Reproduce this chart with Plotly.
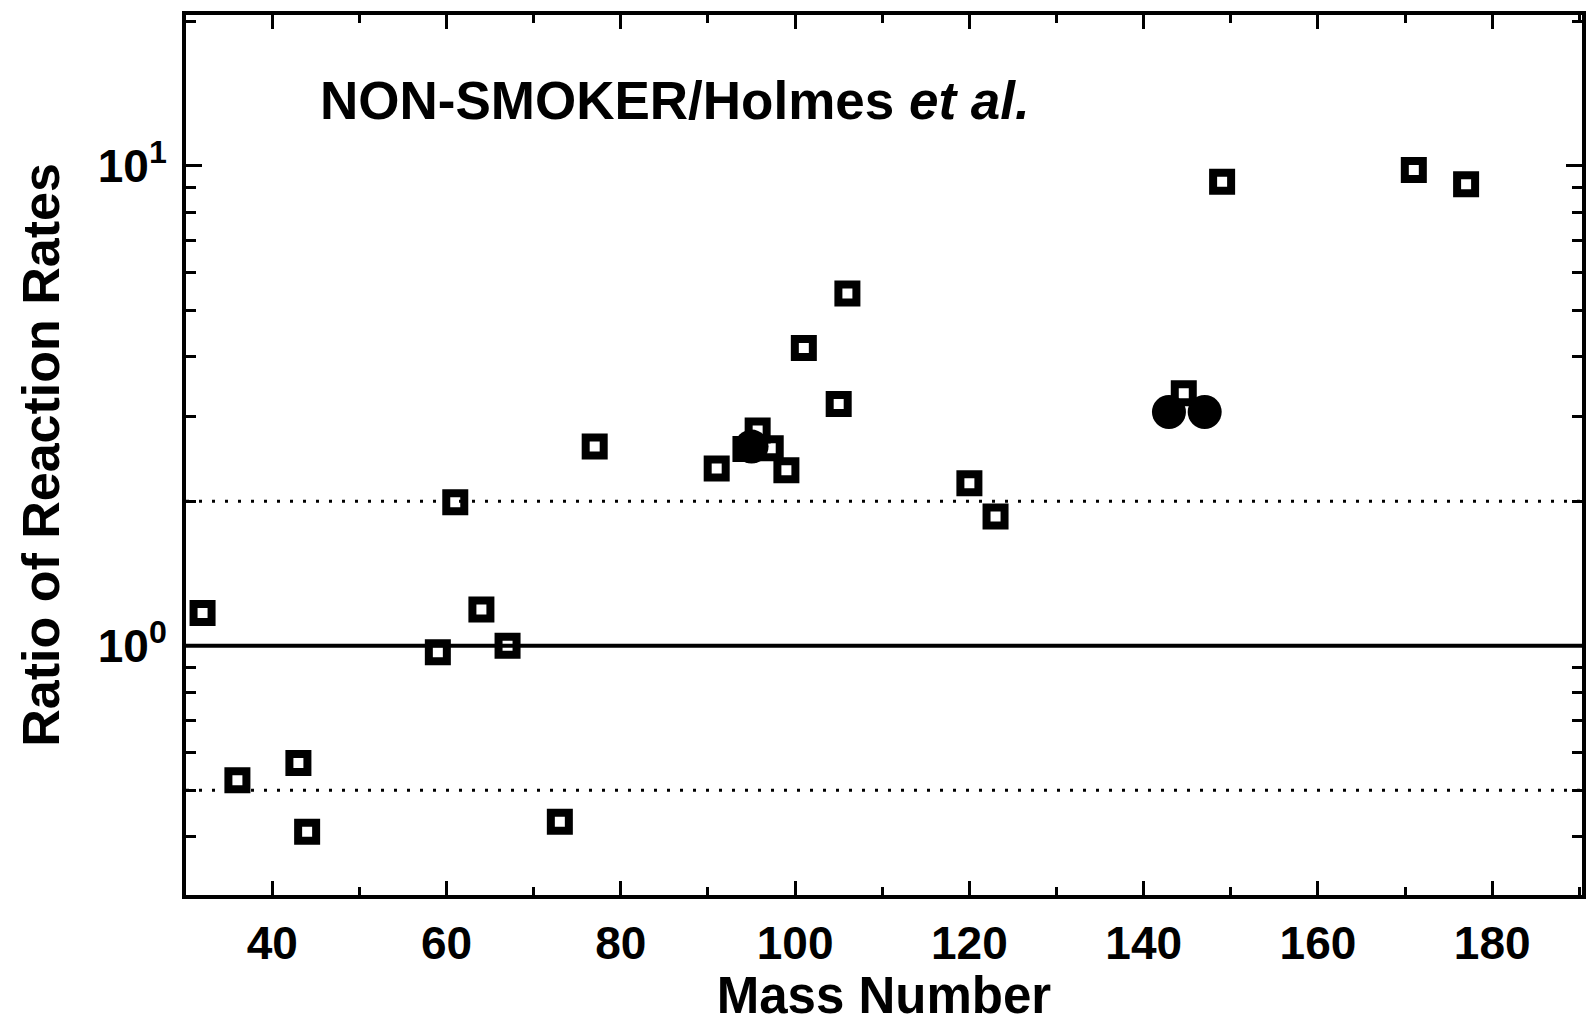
import plotly.graph_objects as go

# ---- data ----
sq_mass = [32, 36, 43, 44, 59, 61, 64, 67, 73, 77, 91, 94.3, 95.7, 97.2, 99, 101, 105, 106,
           120, 123, 144.6, 149, 171, 177]
sq_ratio = [1.17, 0.525, 0.57, 0.41, 0.97, 1.99, 1.19, 1.0, 0.43, 2.6, 2.34, 2.57, 2.81, 2.58,
            2.32, 4.17, 3.19, 5.42, 2.18, 1.86, 3.36, 9.26, 9.8, 9.15]

circ_mass = [95.0, 142.9, 147.0]
circ_ratio = [2.6, 3.07, 3.07]

ref_solid = [1.0]
ref_dotted = [0.5, 2.0]

x_range = [30.1, 190.3]
y_range_log = [-0.519, 1.314]

x_ticks = [40, 60, 80, 100, 120, 140, 160, 180]
x_minor = [50, 70, 90, 110, 130, 150, 170, 190]
y_ticks = [1, 10]
y_ticktext = ["10<sup>0</sup>", "10<sup>1</sup>"]
y_minor = [0.4, 0.5, 0.6, 0.7, 0.8, 0.9, 2, 3, 4, 5, 6, 7, 8, 9, 20]

FONT = "Liberation Sans"

fig = go.Figure()

for v in ref_dotted:
    fig.add_trace(go.Scatter(x=x_range, y=[v, v], mode="lines",
                             line=dict(color="black", width=3, dash="3px,10px"),
                             hoverinfo="skip", showlegend=False))
for v in ref_solid:
    fig.add_trace(go.Scatter(x=x_range, y=[v, v], mode="lines",
                             line=dict(color="black", width=4),
                             hoverinfo="skip", showlegend=False))

fig.add_trace(go.Scatter(x=sq_mass, y=sq_ratio, mode="markers",
                         marker=dict(symbol="square-open", size=18, color="black",
                                     line=dict(width=8, color="black")),
                         showlegend=False))
fig.add_trace(go.Scatter(x=circ_mass, y=circ_ratio, mode="markers",
                         marker=dict(symbol="circle", size=34, color="black",
                                     line=dict(width=0)),
                         showlegend=False))

fig.update_layout(
    width=1592, height=1024,
    margin=dict(l=186, r=10, t=15, b=129, autoexpand=False),
    paper_bgcolor="white", plot_bgcolor="white",
    font=dict(family=FONT, color="black"),
    showlegend=False,
)

fig.update_xaxes(
    range=x_range, showgrid=False, zeroline=False,
    showline=True, linecolor="black", linewidth=4, mirror="ticks",
    tickmode="array", tickvals=x_ticks,
    ticks="inside", ticklen=14, tickwidth=3, tickcolor="black",
    minor=dict(tickmode="array", tickvals=x_minor, ticks="inside", ticklen=8,
               tickwidth=3, tickcolor="black", showgrid=False),
    tickfont=dict(family=FONT, size=46, weight="bold", color="black"),
    ticklabelstandoff=5,
    title=dict(text="Mass Number", font=dict(family=FONT, size=51, weight="bold"),
               standoff=30),
    automargin=False,
)

fig.update_yaxes(
    type="log", range=y_range_log, showgrid=False, zeroline=False,
    showline=True, linecolor="black", linewidth=4, mirror="ticks",
    tickmode="array", tickvals=y_ticks, ticktext=y_ticktext,
    ticks="inside", ticklen=16, tickwidth=3, tickcolor="black",
    minor=dict(tickmode="array", tickvals=y_minor, ticks="inside", ticklen=10,
               tickwidth=3, tickcolor="black", showgrid=False),
    tickfont=dict(family=FONT, size=46, weight="bold", color="black"),
    ticklabelstandoff=6,
    title=dict(text="Ratio of Reaction Rates", font=dict(family=FONT, size=52, weight="bold"),
               standoff=23),
    automargin=False,
)

fig.add_annotation(
    text="<b>NON-SMOKER/Holmes <i>et al.</i></b>",
    xref="paper", yref="paper", x=0.0946, y=0.903,
    xanchor="left", yanchor="middle", showarrow=False,
    font=dict(family=FONT, size=53, color="black"),
)

fig.write_html("out.html")
